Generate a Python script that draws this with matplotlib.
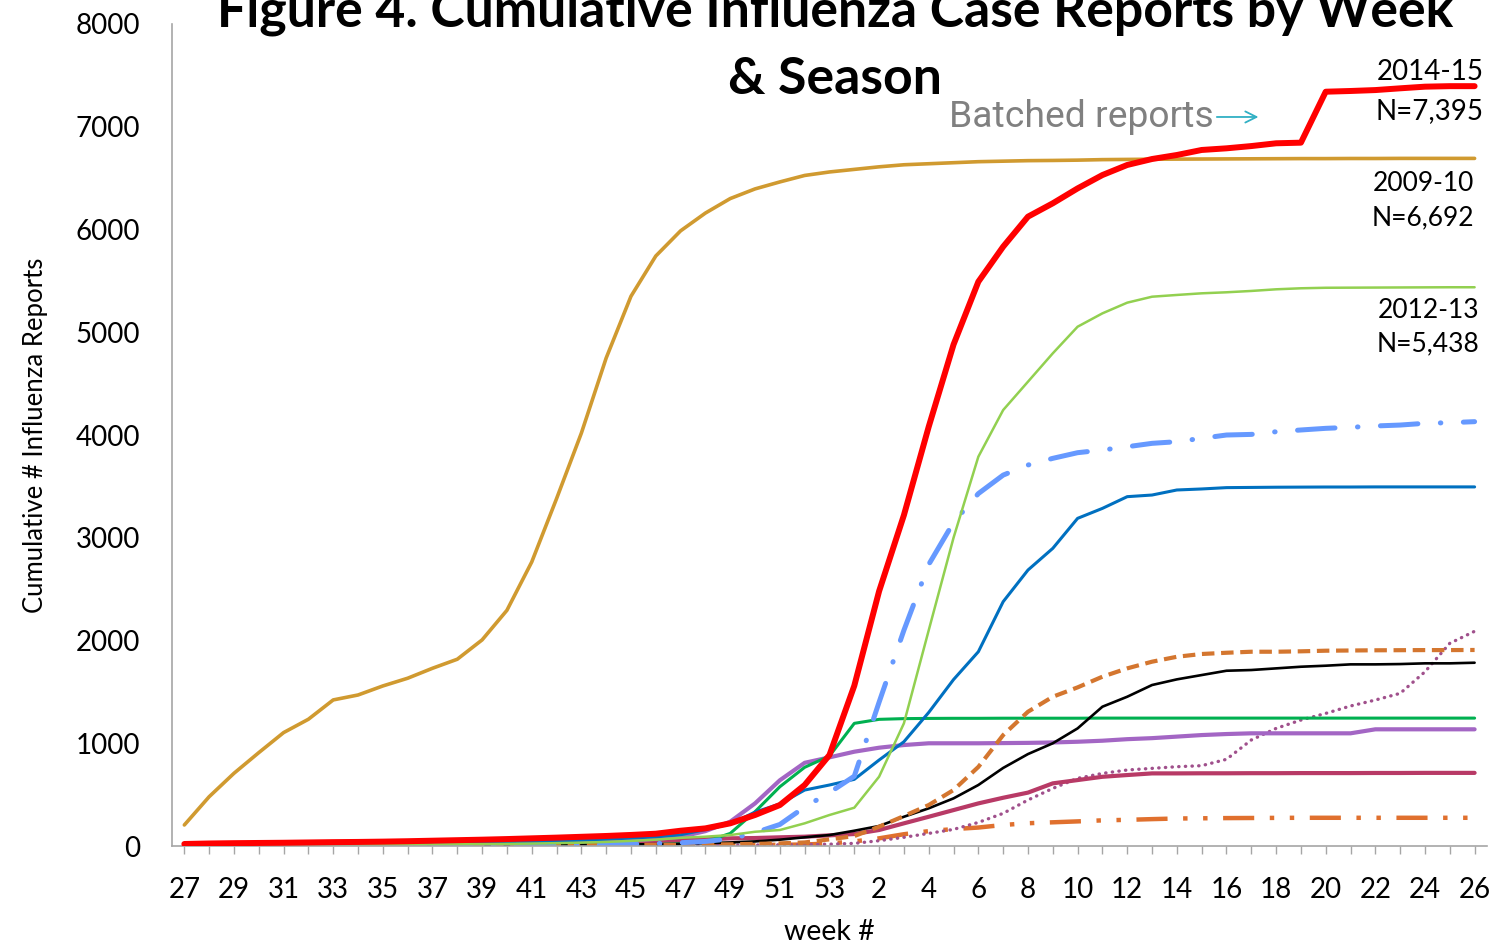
import matplotlib
matplotlib.use('Agg')
import matplotlib.pyplot as plt
import numpy as np

plt.rcParams['font.family'] = ['Lato', 'DejaVu Sans']

# weeks 27..53 then 1..26
weeks = list(range(27, 54)) + list(range(1, 27))

# 2009-10
gold_vals = [205, 480, 708, 909, 1104, 1234, 1422, 1470, 1558, 1633, 1730, 1818, 2006,
             2294, 2764, 3380, 4018, 4749, 5350, 5742, 5987, 6160, 6301, 6395, 6463, 6526,
             6560, 6585, 6610, 6630, 6640, 6650, 6660, 6665, 6670, 6672, 6675, 6680, 6682,
             6684, 6685, 6686, 6687, 6688, 6689, 6690, 6690, 6691, 6691, 6692, 6692, 6692, 6692]
# 2014-15
red_vals = [20, 25, 28, 30, 32, 35, 38, 40, 43, 47, 52, 57, 62, 68, 75, 82, 90, 98, 108, 120,
            149, 172, 221, 302, 399, 594, 886, 1560, 2480, 3220, 4081, 4880, 5492, 5833, 6125,
            6255, 6400, 6530, 6628, 6686, 6725, 6774, 6790, 6812, 6839, 6845, 7341, 7348, 7357,
            7374, 7390, 7395, 7395]
# 2012-13
lgreen_vals = [5, 6, 7, 8, 9, 10, 11, 12, 13, 14, 15, 17, 19, 21, 24, 28, 33, 40, 50, 62,
               80, 91, 107, 139, 156, 221, 302, 373, 675, 1194, 2100, 3000, 3789, 4243, 4519,
               4795, 5054, 5184, 5288, 5346, 5363, 5379, 5389, 5402, 5418, 5428, 5433, 5434,
               5435, 5436, 5437, 5438, 5438]
lblue_vals = [0, 0, 0, 1, 1, 1, 2, 2, 2, 3, 3, 4, 5, 6, 7, 9, 11, 14, 18, 24, 32, 45,
              70, 130, 210, 380, 520, 680, 1400, 2100, 2740, 3150, 3430, 3610, 3708, 3773,
              3828, 3854, 3886, 3919, 3935, 3968, 4000, 4006, 4032, 4049, 4065, 4075, 4088,
              4097, 4114, 4120, 4130]
blue_vals = [8, 9, 10, 11, 12, 13, 14, 15, 17, 19, 21, 24, 28, 33, 40, 48, 57, 67, 78, 90,
             110, 160, 215, 330, 410, 545, 594, 649, 837, 1015, 1300, 1620, 1891, 2378, 2686,
             2897, 3189, 3286, 3400, 3416, 3465, 3475, 3488, 3490, 3492, 3493, 3494, 3494,
             3495, 3495, 3495, 3495, 3495]
green_vals = [None] * 13 + [2, 2, 3, 4, 6, 10, 15, 22, 42, 123, 334, 577, 766, 876, 1194,
                            1233, 1240, 1242, 1243, 1243, 1244, 1244, 1244, 1244] + [1245] * 16
purple_vals = [5, 6, 6, 7, 8, 9, 10, 11, 12, 13, 14, 16, 18, 21, 25, 30, 36, 44, 55, 70,
               90, 145, 237, 415, 640, 810, 863, 918, 957, 983, 1000, 1000, 1000, 1002, 1004,
               1008, 1015, 1025, 1040, 1050, 1065, 1080, 1090, 1097, 1097, 1097, 1097, 1097,
               1136, 1136, 1136, 1136, 1136]
maroon_vals = [5, 6, 7, 8, 9, 10, 11, 12, 13, 14, 15, 17, 19, 21, 24, 28, 33, 38, 44, 50,
               58, 65, 75, 78, 85, 91, 104, 117, 156, 221, 285, 350, 415, 470, 520, 610, 642,
               674, 691, 707, 707, 708, 708, 709, 709, 710, 710, 710, 711, 711, 712, 712, 712]
black_vals = [2, 2, 3, 3, 3, 4, 4, 5, 5, 6, 6, 7, 8, 9, 10, 11, 12, 14, 16, 18,
              22, 28, 35, 45, 62, 85, 107, 149, 195, 285, 367, 464, 594, 760, 895, 1000, 1145,
              1356, 1453, 1567, 1622, 1664, 1706, 1713, 1729, 1745, 1755, 1768, 1768, 1771,
              1778, 1778, 1784]
orange_dash_vals = [1, 1, 1, 2, 2, 2, 3, 3, 3, 4, 4, 5, 5, 6, 6, 7, 8, 9, 10, 11,
                    12, 14, 17, 21, 26, 35, 65, 97, 188, 292, 399, 545, 770, 1080, 1307, 1453,
                    1544, 1648, 1729, 1794, 1842, 1869, 1881, 1891, 1891, 1895, 1901, 1903,
                    1905, 1906, 1907, 1907, 1908]
dotted_vals = [0, 0, 0, 0, 1, 1, 1, 1, 1, 2, 2, 2, 2, 3, 3, 3, 4, 4, 5, 5,
               6, 7, 8, 10, 12, 15, 18, 26, 52, 85, 123, 162, 230, 318, 448, 561, 659, 707,
               740, 756, 772, 782, 844, 1032, 1145, 1226, 1291, 1363, 1421, 1486, 1696, 1973, 2090]
orange_dd_vals = [0, 0, 0, 0, 0, 1, 1, 1, 1, 1, 2, 2, 2, 2, 3, 3, 3, 4, 4, 5,
                  6, 7, 8, 10, 12, 15, 25, 45, 75, 115, 145, 165, 180, 205, 222, 231, 240, 250,
                  255, 262, 268, 270, 272, 273, 274] + [275] * 8

x = np.arange(len(weeks))

fig = plt.figure(figsize=(14.99, 9.52), dpi=100)
ax = fig.add_axes([0.1147, 0.1113, 0.8773, 0.8635])

def line(vals, color, lw, ls='-', z=2, cap='butt'):
    y = np.array([np.nan if v is None else v for v in vals], dtype=float)
    ax.plot(x, y, color=color, lw=lw, linestyle=ls, zorder=z,
            dash_capstyle=cap, solid_capstyle='round', solid_joinstyle='round')

line(orange_dd_vals, '#E0702E', 3.2, (0, (7, 3.5, 1, 3.5, 1, 3.5)))
line(dotted_vals, '#A0508C', 2.4, (0, (0.1, 1.9)), cap='round')
line(maroon_vals, '#B83A66', 3.0)
line(purple_vals, '#A366C4', 3.0)
line(green_vals, '#00B050', 2.2)
line(black_vals, '#000000', 1.9)
line(orange_dash_vals, '#D4762F', 3.0, (0, (3, 1.6)))
line(blue_vals, '#0070C0', 2.2)
line(lblue_vals, '#6699FF', 3.6, (0, (7.5, 4.5, 0.1, 4.5)), cap='round')
line(lgreen_vals, '#92D050', 1.8)
line(gold_vals, '#D09A30', 2.6)
line(red_vals, '#FF0000', 4.3, z=3)

ax.set_xlim(-0.5, len(weeks) - 0.5)
ax.set_ylim(0, 8000)
ax.set_yticks(range(0, 8001, 1000))
ax.set_xticks(x)
ax.set_xticklabels([str(w) if i % 2 == 0 else '' for i, w in enumerate(weeks)])
ax.tick_params(axis='y', length=0, pad=23, labelsize=20)
ax.tick_params(axis='x', length=6, width=1, color='#A6A6A6', pad=16, labelsize=20)
for s in ['top', 'right']:
    ax.spines[s].set_visible(False)
for s in ['left', 'bottom']:
    ax.spines[s].set_color('#A6A6A6')
    ax.spines[s].set_linewidth(1.2)

ax.set_ylabel('Cumulative # Influenza Reports', fontsize=18.5, labelpad=20)
ax.set_xlabel('week #', fontsize=20.5, labelpad=12)

# title, two lines (top of first line is cut off in the original)
fig.text(835 / 1499, 1 - 26 / 952, 'Figure 4. Cumulative Influenza Case Reports by Week',
         ha='center', va='baseline', fontsize=37.3, fontweight='bold')
fig.text(835 / 1499, 1 - 94 / 952, '& Season',
         ha='center', va='baseline', fontsize=37.3, fontweight='bold')

# season labels at right
ax.text(52.36, 7533, '2014-15', ha='right', va='center', fontsize=20)
ax.text(52.36, 7153, 'N=7,395', ha='right', va='center', fontsize=20)
ax.text(52.0, 6443, '2009-10', ha='right', va='center', fontsize=19)
ax.text(52.0, 6112, 'N=6,692', ha='right', va='center', fontsize=19)
ax.text(52.2, 5216, '2012-13', ha='right', va='center', fontsize=19)
ax.text(52.2, 4886, 'N=5,438', ha='right', va='center', fontsize=19)

ax.annotate('', xy=(43.4, 7095), xytext=(41.5, 7095),
            arrowprops=dict(arrowstyle='->', color='#31B0C4', lw=1.3, mutation_scale=20))
ax.text(41.5, 7095, 'Batched reports', ha='right', va='center', fontsize=26.8,
        color='#808080', family='Roboto')

fig.savefig('out.png', dpi=100)
